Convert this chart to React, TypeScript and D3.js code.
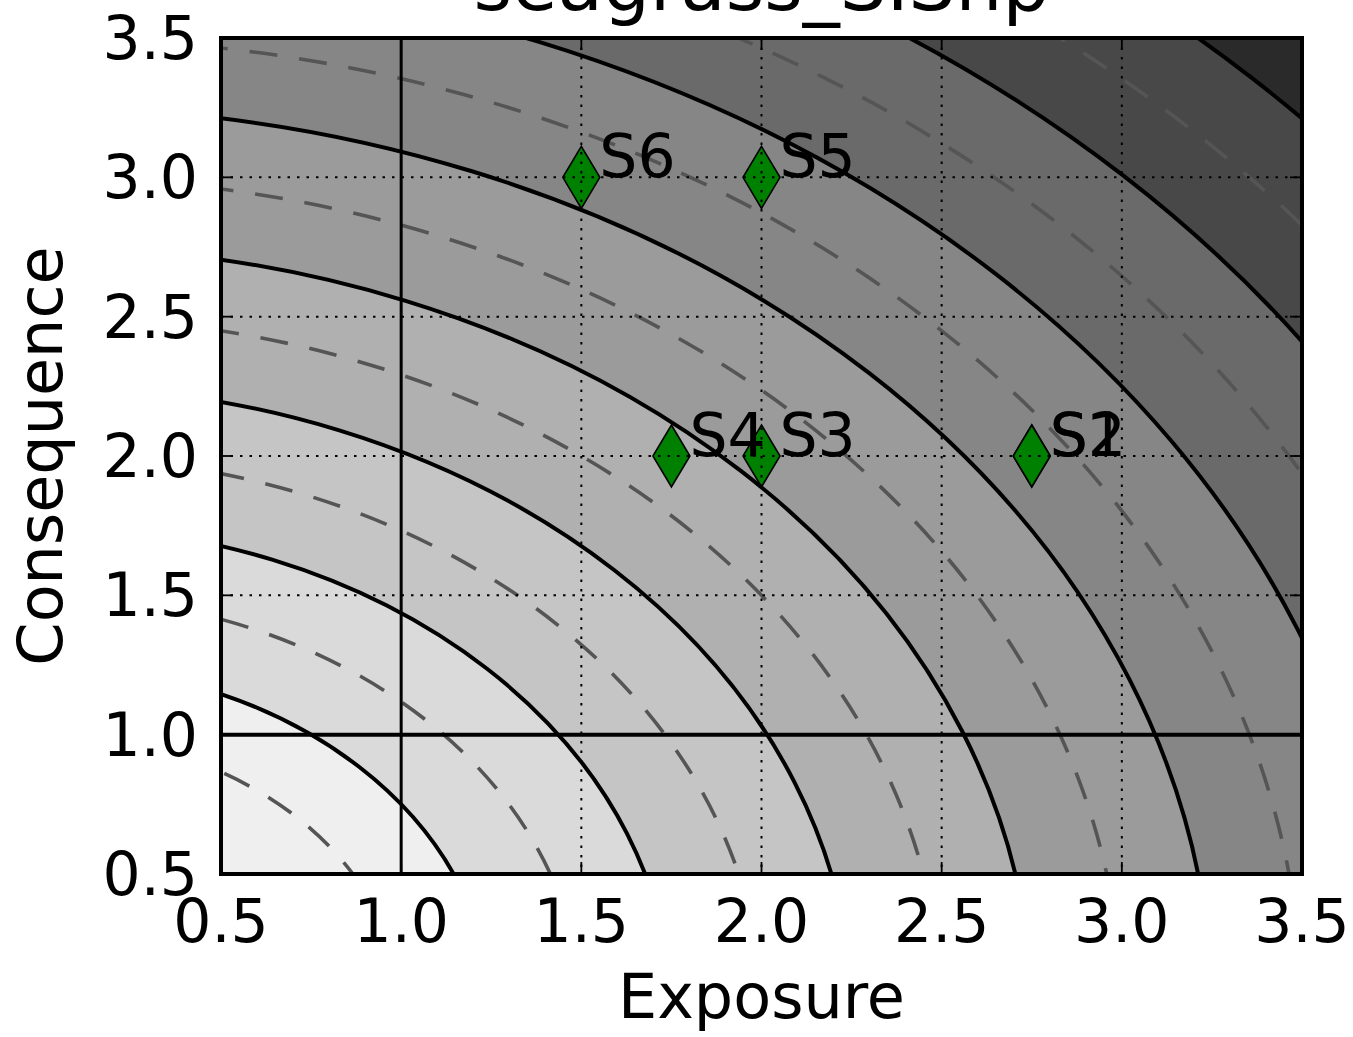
import React from "react";
import * as d3 from "d3";

// ---- data ----
const siteNames = ["S1", "S2", "S3", "S4", "S5", "S6"];
const exposure = [2.75, 2.75, 2.0, 1.75, 2.0, 1.5];
const consequence = [2.0, 2.0, 2.0, 2.0, 3.0, 3.0];

const solidLevels = [1.25, 1.75, 2.25, 2.75, 3.25, 3.75, 4.25, 4.75];
const dashedLevels = [1.0, 1.5, 2.0, 2.5, 3.0, 3.5, 4.0, 4.5];
// band fill, from innermost (r < 1.25) outwards
const bandColors = ["#efefef", "#dadada", "#c5c5c5", "#b0b0b0", "#9b9b9b", "#868686", "#6a6a6a", "#484848", "#2a2a2a"];

const xTicks = [0.5, 1.0, 1.5, 2.0, 2.5, 3.0, 3.5];
const yTicks = [0.5, 1.0, 1.5, 2.0, 2.5, 3.0, 3.5];
const gridTicks = [1.5, 2.0, 2.5, 3.0];
const refLines = [1.0];

const W = 1353;
const H = 1037;
const L = 221, R = 1302, T = 38, B = 874;
const FONT = "DejaVu Sans, sans-serif";

export default function App() {
  const x = d3.scaleLinear().domain([0.5, 3.5]).range([L, R]);
  const y = d3.scaleLinear().domain([0.5, 3.5]).range([B, T]);
  const fmt = d3.format(".1f");

  const rx = (r: number) => x(r) - x(0);
  const ry = (r: number) => y(0) - y(r);

  const outer = [...solidLevels].reverse();

  const diamond = (cx: number, cy: number) => {
    const h = 31, w = 18.5;
    return `M${cx},${cy - h}L${cx + w},${cy}L${cx},${cy + h}L${cx - w},${cy}Z`;
  };

  return (
    <svg width={W} height={H} style={{ position: "absolute", left: 0, top: 0, background: "#fff" }}>
      <defs>
        <clipPath id="plot">
          <rect x={L} y={T} width={R - L} height={B - T} />
        </clipPath>
      </defs>
      <g clipPath="url(#plot)">
        <rect x={L} y={T} width={R - L} height={B - T} fill={bandColors[bandColors.length - 1]} />
        {outer.map((lv, i) => (
          <ellipse key={"b" + lv} cx={x(0)} cy={y(0)} rx={rx(lv)} ry={ry(lv)}
            fill={bandColors[solidLevels.length - 1 - i]} />
        ))}
        {dashedLevels.map((lv) => (
          <ellipse key={"d" + lv} cx={x(0)} cy={y(0)} rx={rx(lv)} ry={ry(lv)}
            fill="none" stroke="#555555" strokeWidth={3.6} strokeDasharray="28,22" />
        ))}
        {exposure.map((e, i) => (
          <path key={"m" + i} d={diamond(x(e), y(consequence[i]))} fill="#008000" stroke="#000" strokeWidth={1.6} />
        ))}
        {solidLevels.map((lv) => (
          <ellipse key={"s" + lv} cx={x(0)} cy={y(0)} rx={rx(lv)} ry={ry(lv)}
            fill="none" stroke="#000" strokeWidth={4} />
        ))}
        {gridTicks.map((t) => (
          <line key={"gx" + t} x1={x(t)} x2={x(t)} y1={T} y2={B} stroke="#000" strokeWidth={2} strokeDasharray="2.5,7" />
        ))}
        {gridTicks.map((t) => (
          <line key={"gy" + t} x1={L} x2={R} y1={y(t)} y2={y(t)} stroke="#000" strokeWidth={2} strokeDasharray="2.5,7" />
        ))}
        {refLines.map((t) => (
          <line key={"rx" + t} x1={x(t)} x2={x(t)} y1={T} y2={B} stroke="#000" strokeWidth={3} />
        ))}
        {refLines.map((t) => (
          <line key={"ry" + t} x1={L} x2={R} y1={y(t)} y2={y(t)} stroke="#000" strokeWidth={4} />
        ))}
        {/* inward ticks */}
        {xTicks.map((t) => (
          <g key={"tx" + t}>
            <line x1={x(t)} x2={x(t)} y1={B} y2={B - 12} stroke="#000" strokeWidth={1.8} />
            <line x1={x(t)} x2={x(t)} y1={T} y2={T + 12} stroke="#000" strokeWidth={1.8} />
          </g>
        ))}
        {yTicks.map((t) => (
          <g key={"ty" + t}>
            <line x1={L} x2={L + 12} y1={y(t)} y2={y(t)} stroke="#000" strokeWidth={1.8} />
            <line x1={R} x2={R - 12} y1={y(t)} y2={y(t)} stroke="#000" strokeWidth={1.8} />
          </g>
        ))}
        {siteNames.map((n, i) => (
          <text key={"l" + i} x={x(exposure[i] + 0.05)} y={y(consequence[i])} fontFamily={FONT} fontSize={60} fill="#000">
            {n}
          </text>
        ))}
      </g>
      <rect x={L} y={T} width={R - L} height={B - T} fill="none" stroke="#000" strokeWidth={4} />

      {xTicks.map((t) => (
        <text key={"xl" + t} x={x(t)} y={942} textAnchor="middle" fontFamily={FONT} fontSize={60} fill="#000">
          {fmt(t)}
        </text>
      ))}
      {yTicks.map((t) => (
        <text key={"yl" + t} x={198} y={y(t) + 21} textAnchor="end" fontFamily={FONT} fontSize={60} fill="#000">
          {fmt(t)}
        </text>
      ))}
      <text x={(L + R) / 2} y={1018} textAnchor="middle" fontFamily={FONT} fontSize={62} fill="#000">Exposure</text>
      <text transform={`translate(62,${(T + B) / 2}) rotate(-90)`} textAnchor="middle" fontFamily={FONT} fontSize={62} fill="#000">Consequence</text>
      <text x={(L + R) / 2} y={10} textAnchor="middle" fontFamily={FONT} fontSize={74} fill="#000">seagrass_SIShp</text>
    </svg>
  );
}
